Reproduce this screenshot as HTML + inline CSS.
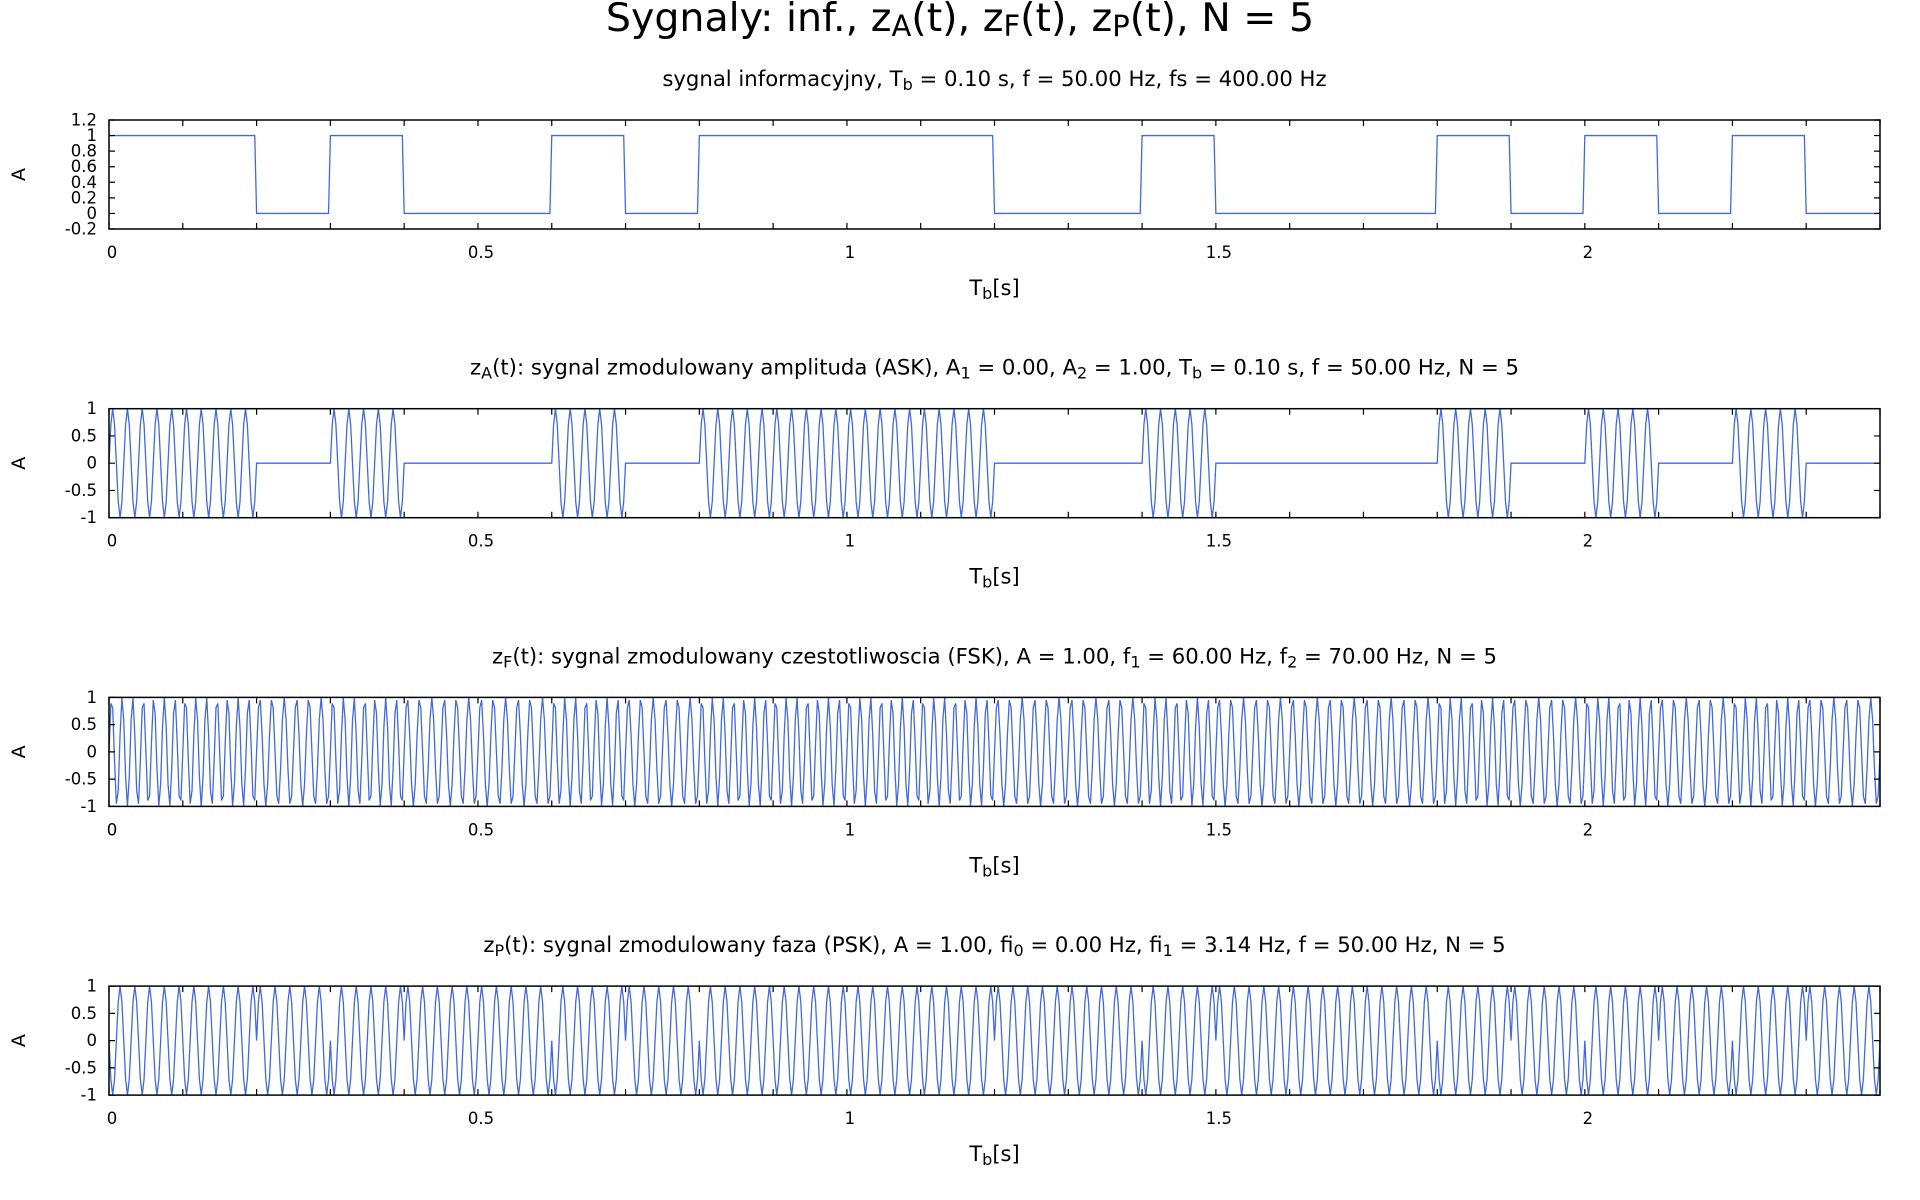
<!DOCTYPE html>
<html><head><meta charset="utf-8"><style>
html,body{margin:0;padding:0;background:#fff;}
svg{display:block;font-family:"DejaVu Sans","Liberation Sans",sans-serif;}
</style></head><body>
<svg id="chart" width="1920" height="1200" viewBox="0 0 1920 1200" xmlns="http://www.w3.org/2000/svg">
<text x="960" y="31" font-size="39.5" text-anchor="middle">Sygnaly: inf., z<tspan font-size="29" baseline-shift="-5">A</tspan>(t), z<tspan font-size="29" baseline-shift="-5">F</tspan>(t), z<tspan font-size="29" baseline-shift="-5">P</tspan>(t), N = 5</text>
</svg>
<script>
// data
const bits = [1,1,0,1,0,0,1,0,1,1,1,1,0,0,1,0,0,0,1,0,1,0,1,0];
const bitDuration = [0.1];
const sampleRate = [400];
const carrierFreq = [50];
const askAmps = [0.00, 1.00];
const fskFreqs = [60, 70];
const pskPhases = [0.00, Math.PI];
const xTicks = [0, 0.5, 1, 1.5, 2];
const xTickLabels = ["0","0.5","1","1.5","2"];
const yTicks1 = [-0.2,0,0.2,0.4,0.6,0.8,1,1.2];
const yTickLabels1 = ["-0.2","0","0.2","0.4","0.6","0.8","1","1.2"];
const yTicks2 = [-1,-0.5,0,0.5,1];
const yTickLabels2 = ["-1","-0.5","0","0.5","1"];

const NS = "http://www.w3.org/2000/svg";
const svg = document.getElementById('chart');
function mk(tag, attrs, parent){const e=document.createElementNS(NS,tag);for(const k in attrs)e.setAttribute(k,attrs[k]);(parent||svg).appendChild(e);return e;}

const Tb = bitDuration[0], fs = sampleRate[0], f = carrierFreq[0];
const nSamples = bits.length * Tb * fs;
const ts = [];
for (let i=0;i<nSamples;i++) ts.push(i/fs);
const bitAt = t => bits[Math.min(bits.length-1, Math.floor(t/Tb + 1e-9))];
const sInf = ts.map(t => bitAt(t));
const sAsk = ts.map(t => askAmps[bitAt(t)] * Math.sin(2*Math.PI*f*t));
const sFsk = ts.map(t => Math.sin(2*Math.PI*fskFreqs[bitAt(t)]*t));
const sPsk = ts.map(t => Math.sin(2*Math.PI*f*t + pskPhases[bitAt(t)]));

const L = 109, R = 1880, H = 109;
const xMax = ts[ts.length-1];
const xs = v => L + (v / xMax) * (R - L);
const SB = 'font-size="16" baseline-shift="-4"';

const panels = [
 {name:'info', vals:sInf, ymin:-0.2, ymax:1.2, yt:yTicks1, yl:yTickLabels1,
  title:`sygnal informacyjny, T<tspan ${SB}>b</tspan> = 0.10 s, f = 50.00 Hz, fs = 400.00 Hz`},
 {name:'ask', vals:sAsk, ymin:-1, ymax:1, yt:yTicks2, yl:yTickLabels2,
  title:`z<tspan ${SB}>A</tspan>(t): sygnal zmodulowany amplituda (ASK), A<tspan ${SB}>1</tspan> = 0.00, A<tspan ${SB}>2</tspan> = 1.00, T<tspan ${SB}>b</tspan> = 0.10 s, f = 50.00 Hz, N = 5`},
 {name:'fsk', vals:sFsk, ymin:-1, ymax:1, yt:yTicks2, yl:yTickLabels2,
  title:`z<tspan ${SB}>F</tspan>(t): sygnal zmodulowany czestotliwoscia (FSK), A = 1.00, f<tspan ${SB}>1</tspan> = 60.00 Hz, f<tspan ${SB}>2</tspan> = 70.00 Hz, N = 5`},
 {name:'psk', vals:sPsk, ymin:-1, ymax:1, yt:yTicks2, yl:yTickLabels2,
  title:`z<tspan ${SB}>P</tspan>(t): sygnal zmodulowany faza (PSK), A = 1.00, fi<tspan ${SB}>0</tspan> = 0.00 Hz, fi<tspan ${SB}>1</tspan> = 3.14 Hz, f = 50.00 Hz, N = 5`}
];

panels.forEach((p,k)=>{
  const top = 120 + k*288.7, bot = top + H;
  const ys = v => bot - (v - p.ymin)/(p.ymax - p.ymin) * H;
  const g = mk('g',{});
  
  
  const st = mk('text',{x:(L+R)/2, y:top-34, 'font-size':21.2, 'text-anchor':'middle'}, g);
  st.innerHTML = p.title;
  
  
  const d = p.vals.map((v,i)=>(i?'L':'M')+xs(ts[i]).toFixed(2)+' '+ys(v).toFixed(2)).join(' ');
  const path = mk('path',{d:d, fill:'none', stroke:'#4169e1', 'stroke-width':1.3}, g);
  
  
  let tk = '';
  for (let i=0;i*0.1<=xMax+1e-9;i++){const x=xs(i*0.1); tk+=`M${x} ${bot}v-6M${x} ${top}v6`;}
  p.yt.forEach(v=>{const y=ys(v); tk+=`M${L} ${y}h6M${R} ${y}h-6`;});
  const tp = mk('path',{d:tk, stroke:'#000', 'stroke-width':1.2, fill:'none'}, g);
  
  
  const frame = mk('rect',{x:L, y:top, width:R-L, height:H, fill:'none', stroke:'#000', 'stroke-width':1.5}, g);
  
  
  xTicks.forEach((v,i)=>{
    const t = mk('text',{x:xs(v)+3, y:bot+29, 'font-size':16.5, 'text-anchor':'middle'}, g);
    t.textContent = xTickLabels[i];
    
    
  });
  p.yt.forEach((v,i)=>{
    const t = mk('text',{x:97, y:ys(v)+5.5, 'font-size':16.5, 'text-anchor':'end'}, g);
    t.textContent = p.yl[i];
    
    
  });
  const xl = mk('text',{x:(L+R)/2, y:bot+66, 'font-size':21, 'text-anchor':'middle'}, g);
  xl.innerHTML = 'T<tspan font-size="16" baseline-shift="-4">b</tspan>[s]';
  
  
  const yl = mk('text',{x:0, y:0, 'font-size':19, 'text-anchor':'middle', transform:`translate(25 ${(top+bot)/2}) rotate(-90)`}, g);
  yl.textContent = 'A';
  
  
});
</script>
</body></html>
